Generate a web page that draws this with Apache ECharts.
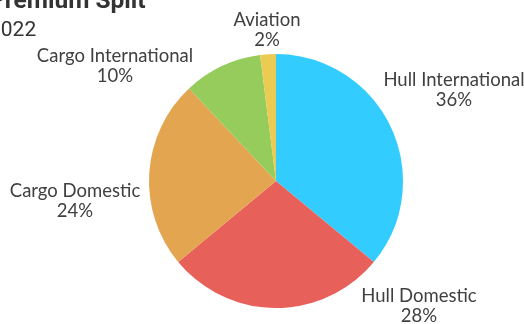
<!DOCTYPE html>
<html><head><meta charset="utf-8">
<script src="https://cdn.jsdelivr.net/npm/echarts@6/dist/echarts.min.js"></script>
<style>html,body{margin:0;padding:0;background:#fff}#c{width:524px;height:324px}</style>
</head><body><div id="c"></div>
<script>
const categories = ['Hull International', 'Hull Domestic', 'Cargo Domestic', 'Cargo International', 'Aviation'];
const values = [36, 28, 24, 10, 2];
const colors = ['#33CCFF', '#E8605A', '#E3A54F', '#95CC5C', '#ECCB53'];
const titleText = 'Premium Split';
const subtitleText = '2022';

// label block centres (layout only)
const labelAnchors = [[454, 90], [419, 306], [75, 201], [115, 66], [267, 30]];

const chart = echarts.init(document.getElementById('c'), null, {renderer: 'canvas'});
chart.setOption({
  animation: false,
  title: {
    text: titleText, subtext: subtitleText,
    left: -16, top: -16, itemGap: 6,
    textStyle: {fontFamily: 'Roboto', fontWeight: 'bold', fontSize: 24.5, color: '#333'},
    subtextStyle: {fontFamily: 'Roboto', fontSize: 21, color: '#333'}
  },
  series: [{
    type: 'pie',
    center: [276, 181],
    radius: 127,
    startAngle: 90,
    clockwise: true,
    avoidLabelOverlap: false,
    label: {
      show: true, position: 'outside', overflow: 'none',
      formatter: p => p.name + '\n' + p.value + '%',
      fontFamily: 'Lato', fontSize: 18.5, color: '#404040', lineHeight: 20, align: 'center'
    },
    labelLine: {show: false},
    labelLayout: p => ({
      x: labelAnchors[p.dataIndex][0], y: labelAnchors[p.dataIndex][1],
      align: 'center', verticalAlign: 'middle'
    }),
    data: categories.map((n, i) => ({name: n, value: values[i], itemStyle: {color: colors[i]}}))
  }]
});
</script></body></html>
